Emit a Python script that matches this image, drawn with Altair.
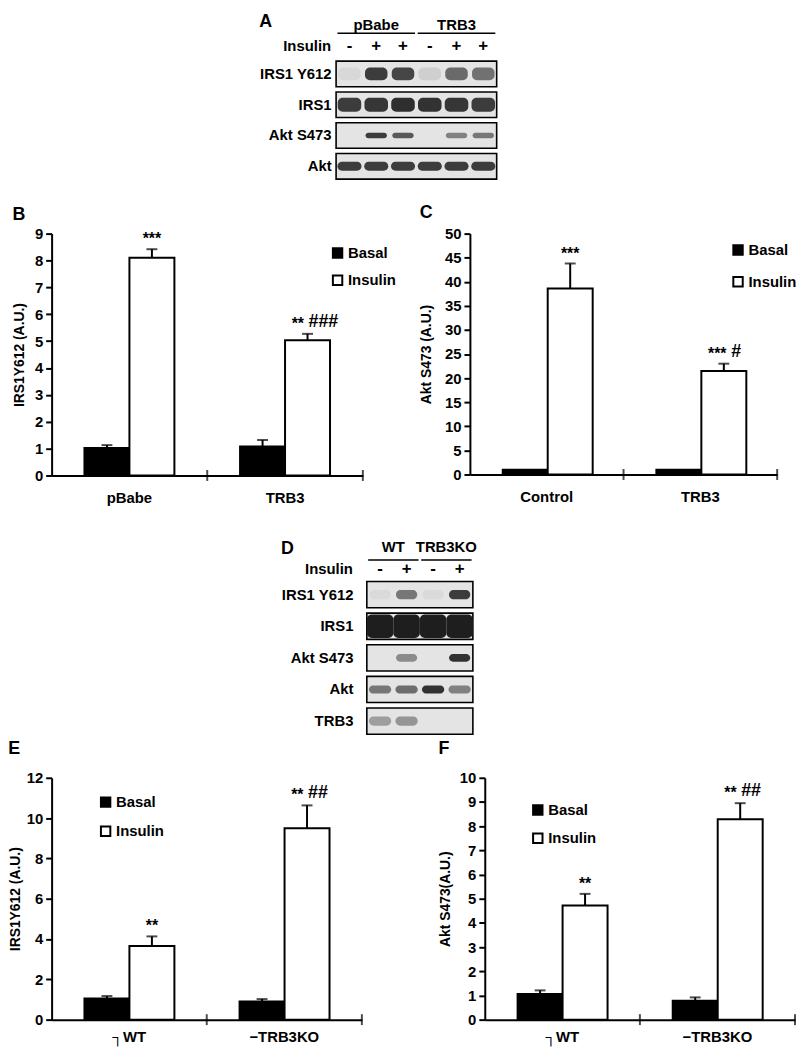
import altair as alt
import pandas as pd

FONT = "Liberation Sans"

# ---------------- Panel A (western blot, densities read by eye) ----------------
a_lanes = [1, 2, 3, 4, 5, 6]
a_groups = ["pBabe", "pBabe", "pBabe", "TRB3", "TRB3", "TRB3"]
a_signs = ["-", "+", "+", "-", "+", "+"]
a_rows = ["IRS1 Y612", "IRS1", "Akt S473", "Akt"]
a_irs1_y612 = [0.06, 0.85, 0.8, 0.1, 0.62, 0.58]
a_irs1 = [0.85, 0.88, 0.92, 0.9, 0.88, 0.85]
a_akt_s473 = [0.0, 0.85, 0.7, 0.0, 0.5, 0.55]
a_akt = [0.85, 0.85, 0.85, 0.85, 0.85, 0.85]

# ---------------- Panel D (western blot) ----------------
d_lanes = [1, 2, 3, 4]
d_groups = ["WT", "WT", "TRB3KO", "TRB3KO"]
d_signs = ["-", "+", "-", "+"]
d_rows = ["IRS1 Y612", "IRS1", "Akt S473", "Akt", "TRB3"]
d_irs1_y612 = [0.05, 0.55, 0.05, 0.85]
d_irs1 = [1.0, 1.0, 1.0, 1.0]
d_akt_s473 = [0.0, 0.45, 0.0, 0.9]
d_akt = [0.55, 0.6, 0.9, 0.5]
d_trb3 = [0.35, 0.4, 0.0, 0.0]

# ---------------- Panel B ----------------
b_cats = ["pBabe", "TRB3"]
b_basal = [1.02, 1.08]
b_basal_err = [0.11, 0.24]
b_insulin = [8.10, 5.03]
b_insulin_err = [0.32, 0.24]
b_stars = ["***", "**"]
b_hashes = ["", "###"]

# ---------------- Panel C ----------------
c_cats = ["Control", "TRB3"]
c_basal = [1.0, 1.0]
c_basal_err = [0.0, 0.0]
c_insulin = [38.6, 21.5]
c_insulin_err = [5.2, 1.5]
c_stars = ["***", "***"]
c_hashes = ["", "#"]

# ---------------- Panel E ----------------
e_cats = ["┐WT", "−TRB3KO"]
e_basal = [1.05, 0.9]
e_basal_err = [0.12, 0.12]
e_insulin = [3.65, 9.5]
e_insulin_err = [0.48, 1.13]
e_stars = ["**", "**"]
e_hashes = ["", "##"]

# ---------------- Panel F ----------------
f_cats = ["┐WT", "−TRB3KO"]
f_basal = [1.06, 0.78]
f_basal_err = [0.15, 0.14]
f_insulin = [4.72, 8.29]
f_insulin_err = [0.48, 0.66]
f_stars = ["**", "**"]
f_hashes = ["", "##"]


def letter_title(letter, offset=4):
    return alt.Title(letter, anchor="start", font=FONT, fontSize=18,
                     fontWeight="bold", color="black", offset=offset)


def make_blot(lanes, groups, signs, rows, levels, width, height, letter,
              label_pad, band_h, band_w, dy_grp, dy_sign, uline, title_off):
    n = len(lanes)
    first = rows[0]
    lane_df = pd.DataFrame({"lane": lanes, "group": groups, "insulin": signs})
    band_df = pd.DataFrame([
        {"row": r, "lane": l, "level": v}
        for r, vals in zip(rows, levels) for l, v in zip(lanes, vals)
    ])
    box_df = pd.DataFrame({"row": rows})
    xs = alt.Scale(domain=[0.5, n + 0.5], nice=False, zero=False)
    ys = alt.Scale(domain=rows, paddingInner=0.17, paddingOuter=0)
    yax = alt.Axis(title=None, ticks=False, domain=False, labelFontSize=15,
                   labelFont=FONT, labelFontWeight="bold", labelColor="black",
                   labelPadding=label_pad)
    Y = alt.Y("row:N", scale=ys, axis=yax, sort=rows)

    boxes = alt.Chart(box_df).mark_rect(
        fill="#e4e4e4", stroke="black", strokeWidth=1.6
    ).encode(
        x=alt.XDatum(0.5, type="quantitative", scale=xs, axis=None),
        x2=alt.X2Datum(n + 0.5),
        y=Y,
    )
    layers = [boxes]
    for r in rows:
        w = band_w[r]
        layers.append(
            alt.Chart(band_df)
            .transform_filter(alt.datum.row == r)
            .transform_calculate(lo=f"datum.lane - {w}", hi=f"datum.lane + {w}")
            .mark_bar(color="#1e1e1e", height={"band": band_h[r]}, cornerRadius=5)
            .encode(x=alt.X("lo:Q", scale=xs), x2="hi:Q", y=Y,
                    opacity=alt.Opacity("level:Q", scale=None, legend=None))
        )
    grp = alt.Chart(lane_df).transform_aggregate(
        c="mean(lane)", lo="min(lane)", hi="max(lane)", groupby=["group"]
    ).transform_calculate(row=f"'{first}'", ulo="datum.lo - 0.45", uhi="datum.hi + 0.45")
    layers.append(grp.mark_text(font=FONT, fontSize=15, fontWeight="bold",
                                color="black", dy=dy_grp)
                  .encode(x=alt.X("c:Q", scale=xs), y=Y, text="group:N"))
    layers.append(grp.mark_rule(color="black", strokeWidth=1.6, yOffset=uline)
                  .encode(x=alt.X("ulo:Q", scale=xs), x2="uhi:Q", y=Y))
    sign = alt.Chart(lane_df).transform_calculate(row=f"'{first}'")
    layers.append(sign.mark_text(font=FONT, fontSize=17, fontWeight="bold",
                                 color="black", dy=dy_sign)
                  .encode(x=alt.X("lane:Q", scale=xs), y=Y, text="insulin:N"))
    lab = alt.Chart(pd.DataFrame({"label": ["Insulin"]})).transform_calculate(row=f"'{first}'")
    layers.append(lab.mark_text(font=FONT, fontSize=15, fontWeight="bold",
                                color="black", align="right", dy=dy_sign,
                                dx=-label_pad)
                  .encode(x=alt.XDatum(0.5, type="quantitative"), y=Y, text="label:N"))
    return alt.layer(*layers).properties(
        width=width, height=height, title=letter_title(letter, title_off))


def make_bar(cats, basal, basal_err, insulin, insulin_err, stars, hashes, ymax,
             ystep, ytitle, letter, width, height, lx, ly, row_pad, title_pad,
             title_off, xlab_pad):
    k = len(cats)
    df = pd.DataFrame({
        "cat": cats * 2,
        "treat": ["Basal"] * k + ["Insulin"] * k,
        "value": basal + insulin,
        "err": basal_err + insulin_err,
        "stars": [""] * k + stars,
        "hashes": [""] * k + hashes,
    })
    X = alt.X("cat:N", sort=cats, scale=alt.Scale(paddingInner=0, paddingOuter=0),
              axis=alt.Axis(title=None, ticks=False, domainWidth=2,
                            domainColor="black", labelFontSize=15, labelFont=FONT,
                            labelFontWeight="bold", labelColor="black",
                            labelAngle=0, labelPadding=xlab_pad))
    XO = alt.XOffset("treat:N", sort=["Basal", "Insulin"],
                     scale=alt.Scale(paddingInner=0, paddingOuter=0.73))
    ys = alt.Scale(domain=[0, ymax], nice=False, zero=True)
    tick_vals = list(range(0, ymax + 1, ystep))
    Y = alt.Y("value:Q", scale=ys,
              axis=alt.Axis(values=tick_vals, tickCount=len(tick_vals) + 2,
                            labelOverlap=False, title=ytitle,
                            grid=False, tickSize=6, tickWidth=2, tickColor="black",
                            domainWidth=2, domainColor="black", labelFontSize=15,
                            labelFont=FONT, labelFontWeight="bold",
                            labelColor="black", labelPadding=3,
                            titleFont=FONT, titleFontSize=14,
                            titleFontWeight="bold", titleColor="black",
                            titlePadding=title_pad))
    fill = alt.Fill("treat:N",
                    scale=alt.Scale(domain=["Basal", "Insulin"], range=["black", "white"]),
                    legend=alt.Legend(title=None, orient="none", legendX=lx, legendY=ly,
                                      symbolType="square", symbolSize=90,
                                      symbolStrokeColor="black", symbolStrokeWidth=2,
                                      labelFontSize=15, labelFont=FONT,
                                      labelFontWeight="bold", labelColor="black",
                                      rowPadding=row_pad, labelOffset=3))
    base = alt.Chart(df).transform_calculate(top="datum.value + datum.err")
    bars = base.mark_bar(stroke="black", strokeWidth=2).encode(x=X, xOffset=XO, y=Y, fill=fill)
    errs = base.transform_filter("datum.err > 0").mark_rule(
        color="black", strokeWidth=2).encode(x=X, xOffset=XO, y="value:Q", y2="top:Q")
    caps = base.transform_filter("datum.err > 0").mark_tick(
        orient="horizontal", size=11, thickness=2, color="black"
    ).encode(x=X, xOffset=XO, y="top:Q")
    layers = [bars, errs, caps]
    layers.append(base.transform_filter("datum.stars != '' && datum.hashes == ''").mark_text(
        font=FONT, fontSize=16, fontWeight="bold", color="black",
        baseline="bottom", dy=-2
    ).encode(x=X, xOffset=XO, y="top:Q", text="stars:N"))
    layers.append(base.transform_filter("datum.hashes != ''").mark_text(
        font=FONT, fontSize=16, fontWeight="bold", color="black",
        baseline="bottom", align="left", dx=-16, dy=-2
    ).encode(x=X, xOffset=XO, y="top:Q", text="stars:N"))
    # hash marks follow the stars; their start depends on the number of stars
    for nstar in (1, 2, 3):
        layers.append(base.transform_filter(
            f"datum.hashes != '' && length(datum.stars) == {nstar}"
        ).mark_text(
            font=FONT, fontSize=18, fontWeight="bold", color="black",
            baseline="bottom", align="left", dx=-16 + 6.5 * nstar + 4, dy=-3
        ).encode(x=X, xOffset=XO, y="top:Q", text="hashes:N"))
    layers.append(alt.Chart(pd.DataFrame({"cat": cats})).mark_tick(
        orient="vertical", size=11, thickness=2, color="black"
    ).encode(x=alt.X("cat:N", sort=cats, bandPosition=1), y=alt.YDatum(0)))
    return alt.layer(*layers).properties(
        width=width, height=height, title=letter_title(letter, title_off))


def spacer(w):
    return alt.Chart(pd.DataFrame({"a": [0]})).mark_text(text="").encode(
        x=alt.value(0), y=alt.value(0)).properties(width=w, height=1)


blot_a = make_blot(
    a_lanes, a_groups, a_signs, a_rows, [a_irs1_y612, a_irs1, a_akt_s473, a_akt],
    162, 119, "A", 5,
    {"IRS1 Y612": 0.5, "IRS1": 0.55, "Akt S473": 0.22, "Akt": 0.35},
    {"IRS1 Y612": 0.42, "IRS1": 0.44, "Akt S473": 0.4, "Akt": 0.45},
    -49, -28, -41, -13)

blot_d = make_blot(
    d_lanes, d_groups, d_signs, d_rows,
    [d_irs1_y612, d_irs1, d_akt_s473, d_akt, d_trb3],
    107, 154, "D", 14,
    {"IRS1 Y612": 0.35, "IRS1": 0.9, "Akt S473": 0.3, "Akt": 0.3, "TRB3": 0.35},
    {"IRS1 Y612": 0.4, "IRS1": 0.5, "Akt S473": 0.4, "Akt": 0.42, "TRB3": 0.42},
    -48, -26, -35, -18)

chart_b = make_bar(b_cats, b_basal, b_basal_err, b_insulin, b_insulin_err,
                   b_stars, b_hashes, 9, 1, "IRS1Y612 (A.U.)", "B", 314, 244,
                   281, 12, 8.5, 8, 3, 15)
chart_c = make_bar(c_cats, c_basal, c_basal_err, c_insulin, c_insulin_err,
                   c_stars, c_hashes, 50, 5, "Akt S473 (A.U.)", "C", 310, 243,
                   263, 9, 13, 11, 5, 15)
chart_e = make_bar(e_cats, e_basal, e_basal_err, e_insulin, e_insulin_err,
                   e_stars, e_hashes, 12, 2, "IRS1Y612 (A.U.)", "E", 313, 244,
                   47, 17, 10.5, 4, 13, 10)
chart_f = make_bar(f_cats, f_basal, f_basal_err, f_insulin, f_insulin_err,
                   f_stars, f_hashes, 10, 1, "Akt S473(A.U.)", "F", 313, 244,
                   46, 25, 9.5, 7, 13, 10)

IND = dict(fill="independent")
row_a = alt.hconcat(spacer(209), blot_a, spacing=0).resolve_scale(**IND)
row_bc = alt.hconcat(chart_b, chart_c, spacing=23).resolve_scale(**IND)
row_d = alt.hconcat(spacer(231), blot_d, spacing=0).resolve_scale(**IND)
row_ef = alt.hconcat(chart_e, chart_f, spacing=76).resolve_scale(**IND)

chart = alt.vconcat(
    alt.vconcat(row_a, row_bc, spacing=24).resolve_scale(**IND),
    alt.vconcat(row_d, row_ef, spacing=5).resolve_scale(**IND),
    spacing=35,
).resolve_scale(**IND).properties(padding=0).configure_view(stroke=None)

chart.save("out.html", embed_options={"renderer": "svg", "actions": False})
